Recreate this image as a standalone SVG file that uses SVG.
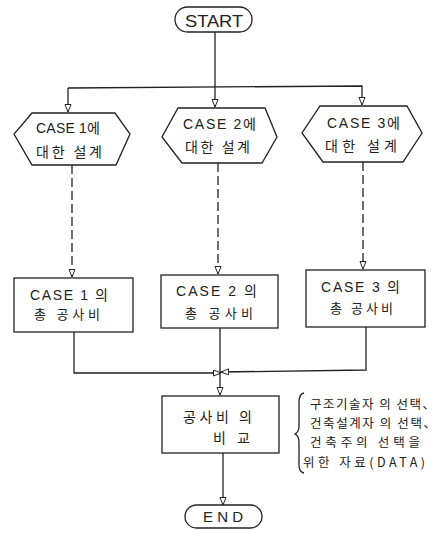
<svg xmlns="http://www.w3.org/2000/svg" width="441" height="533" viewBox="0 0 441 533">
<style>
.s{fill:none;stroke:#222;stroke-width:1.3}
.n{fill:#fff;stroke:#222;stroke-width:1.3}
.d{stroke-dasharray:9,4}
text{font-family:"Liberation Sans","Noto Sans CJK KR",sans-serif;fill:#222;font-size:14px}
.k{font-family:"Noto Sans CJK KR","Liberation Sans",sans-serif}
.m{font-size:13px}
.a{font-size:12.5px}
</style>
<defs>
<marker id="ar" markerWidth="10" markerHeight="10" refX="8" refY="3.5" orient="auto" markerUnits="userSpaceOnUse">
<path d="M0.5,0.5 L8,3.5 L0.5,6.5 z" fill="#fff" stroke="#222" stroke-width="1"/>
</marker>
</defs>
<g id="connectors">
<path class="s" d="M215,32 V107" marker-end="url(#ar)"/>
<path class="s" d="M68,88 L362,86 V105" marker-end="url(#ar)"/>
<path class="s" d="M68,88 V112" marker-end="url(#ar)"/>
<path class="s d" d="M72,165 V277" marker-end="url(#ar)"/>
<path class="s d" d="M218,163 V274" marker-end="url(#ar)"/>
<path class="s d" d="M363,162 V269" marker-end="url(#ar)"/>
<path class="s" d="M74,332 V373 H221" marker-end="url(#ar)"/>
<path class="s" d="M366,327 V370 L221,372" marker-end="url(#ar)"/>
<path class="s" d="M220,328 V395" marker-end="url(#ar)"/>
<path class="s" d="M223,453 V505" marker-end="url(#ar)"/>
</g>
<g id="start">
<rect class="n" x="175" y="7" width="77" height="25" rx="12.5"/>
<text x="185" y="27" style="font-size:17px" textLength="58" lengthAdjust="spacingAndGlyphs">START</text>
</g>
<g id="hex1">
<path class="n" d="M32,113 H115 L130,134 L116,165 H32 L14,134 Z"/>
<text x="36" y="133" textLength="64">CASE 1에</text>
<text class="k" x="36" y="157" textLength="66">대한 설계</text>
</g>
<g id="hex2">
<path class="n" d="M178,108 H265 L277,137 L262,163 H182 L162,137 Z"/>
<text x="183" y="129" textLength="73">CASE 2에</text>
<text class="k" x="185" y="152" textLength="65">대한 설계</text>
</g>
<g id="hex3">
<path class="n" d="M320,106 H407 L422,133 L403,162 H323 L302,133 Z"/>
<text x="327" y="128" textLength="73">CASE 3에</text>
<text class="k" x="325" y="151" textLength="72">대한 설계</text>
</g>
<g id="box1">
<rect class="n" x="14" y="278" width="119" height="54"/>
<text x="30" y="300" textLength="78">CASE 1 의</text>
<text class="k m" x="34" y="319" textLength="66">총 공사비</text>
</g>
<g id="box2">
<rect class="n" x="161" y="275" width="117" height="53"/>
<text x="176" y="296" textLength="81">CASE 2 의</text>
<text class="k m" x="185" y="318" textLength="68">총 공사비</text>
</g>
<g id="box3">
<rect class="n" x="306" y="270" width="119" height="57"/>
<text x="321" y="292" textLength="79">CASE 3 의</text>
<text class="k m" x="330" y="313" textLength="63">총 공사비</text>
</g>
<g id="compare">
<rect class="n" x="162" y="396" width="117" height="57"/>
<text class="k" x="183" y="422" textLength="69">공사비 의</text>
<text class="k" x="213" y="443" textLength="37">비 교</text>
</g>
<g id="end">
<rect class="n" x="185" y="505" width="77" height="23" rx="11.5"/>
<text x="203" y="522" style="font-size:15px" textLength="40">END</text>
</g>
<g id="note">
<path class="s" d="M304,393 Q299,394 299,402 V426 Q299,432 295,434 Q299,436 299,442 V465 Q299,472 304,473"/>
<text class="a k" x="310" y="409" textLength="125">구조기술자 의 선택、</text>
<text class="a k" x="310" y="428" textLength="126">건축설계자 의 선택、</text>
<text class="a k" x="310" y="447" textLength="110">건축주의 선택을</text>
<text class="a k" x="303" y="467" textLength="122">위한 자료(DATA)</text>
</g>
</svg>
